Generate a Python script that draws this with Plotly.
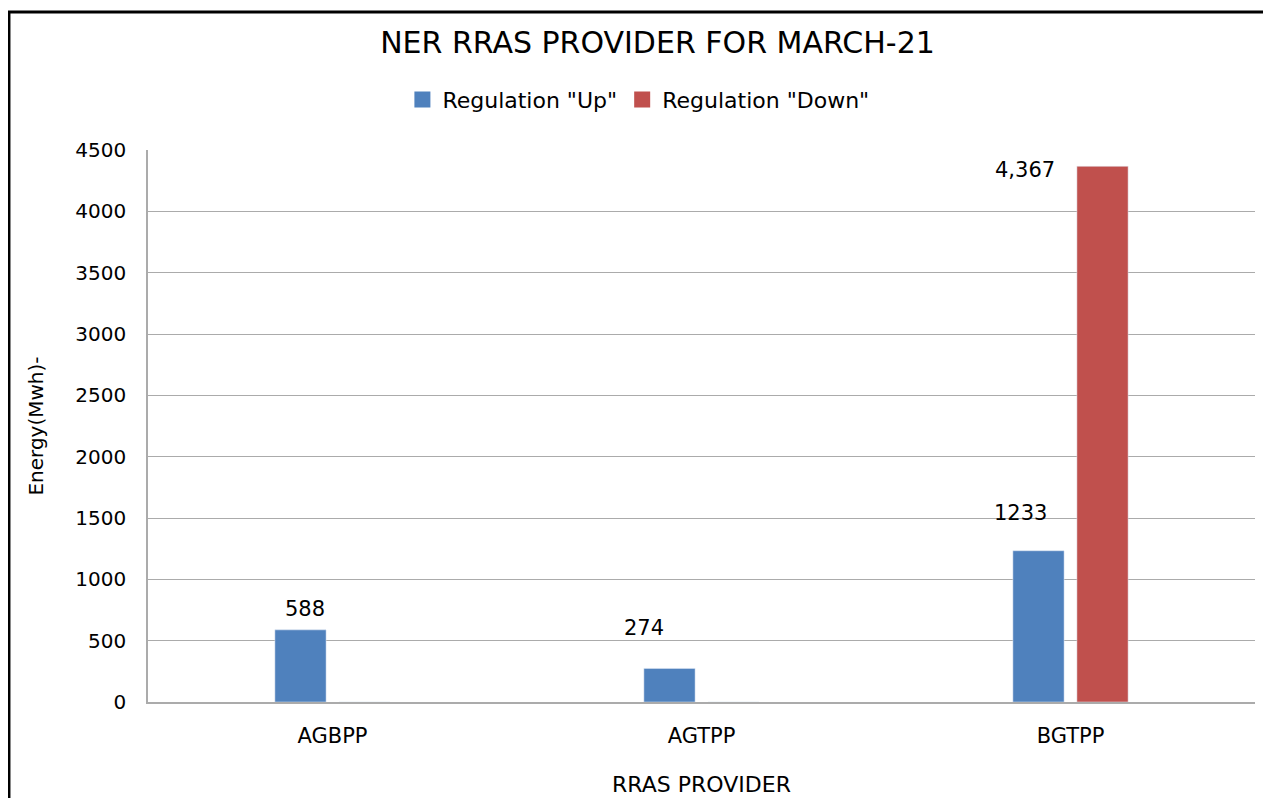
import plotly.graph_objects as go

# -- Data --
providers = ["AGBPP", "AGTPP", "BGTPP"]
reg_up = [588, 274, 1233]
reg_down = [0, 0, 4367]
up_labels = ["588", "274", "1233"]
down_labels = ["", "", "4,367"]

BLUE = "#4F81BD"
RED = "#C0504D"
GRID = "#ABABAB"
FONT = "DejaVu Sans, Verdana, sans-serif"

fig = go.Figure()
fig.add_trace(go.Bar(x=providers, y=reg_up, name='Regulation "Up"',
                     marker_color=BLUE, showlegend=False))
fig.add_trace(go.Bar(x=providers, y=reg_down, name='Regulation "Down"',
                     marker_color=RED, showlegend=False))

# legend entries with bigger square swatches (like the Excel original)
for name, color in [('Regulation "Up"', BLUE), ('Regulation "Down"', RED)]:
    fig.add_trace(go.Scatter(x=[None], y=[None], mode="markers", name=name,
                             marker=dict(symbol="square", size=18, color=color)))

# -- Data labels (offset like the original, above/left of the bars) --
up_shift = [(4, 21), (-26, 40), (-18, 38)]
for i, (p, v, t) in enumerate(zip(providers, reg_up, up_labels)):
    fig.add_annotation(x=p, y=v, text=t, showarrow=False,
                       xshift=up_shift[i][0] - 32, yshift=up_shift[i][1],
                       font=dict(size=21, color="black"))
for p, v, t in zip(providers, reg_down, down_labels):
    if t:
        fig.add_annotation(x=p, y=v, text=t, showarrow=False,
                           xshift=32 - 78, yshift=-4,
                           font=dict(size=21, color="black"))

# -- Outer chart border --
fig.add_shape(type="rect", xref="paper", yref="paper",
              x0=-0.1256, x1=1.05, y0=-0.3, y1=1.25,
              line=dict(color="black", width=3), fillcolor="rgba(0,0,0,0)")

fig.update_layout(
    width=1271, height=798,
    paper_bgcolor="white", plot_bgcolor="white",
    font=dict(family=FONT, size=18, color="black"),
    margin=dict(l=140, r=24, t=142, b=104),
    barmode="group", bargap=0.653, bargroupgap=0.2,
    title=dict(text="NER RRAS PROVIDER FOR MARCH-21", x=0.511, xanchor="center",
               y=0.957, yanchor="middle", font=dict(size=30, family=FONT)),
    legend=dict(orientation="h", x=0.443, xanchor="center", y=1.091,
                yanchor="middle", font=dict(size=22), itemwidth=30,
                bgcolor="rgba(0,0,0,0)"),
    showlegend=True,
)
fig.update_xaxes(showline=True, linecolor=GRID, linewidth=1.5, mirror=False,
                 ticks="outside", ticklen=14, tickcolor="rgba(0,0,0,0)",
                 tickfont=dict(size=21),
                 title=dict(text="RRAS PROVIDER", font=dict(size=22), standoff=30))
fig.update_yaxes(range=[0, 4500], dtick=500, showgrid=True, gridcolor=GRID,
                 gridwidth=1.2, showline=True, linecolor=GRID, linewidth=1.5,
                 zeroline=False, ticks="outside", ticklen=16,
                 tickcolor="rgba(0,0,0,0)", tickfont=dict(size=20),
                 title=dict(text="Energy(Mwh)-", font=dict(size=20), standoff=26))

fig.write_html("out.html")
